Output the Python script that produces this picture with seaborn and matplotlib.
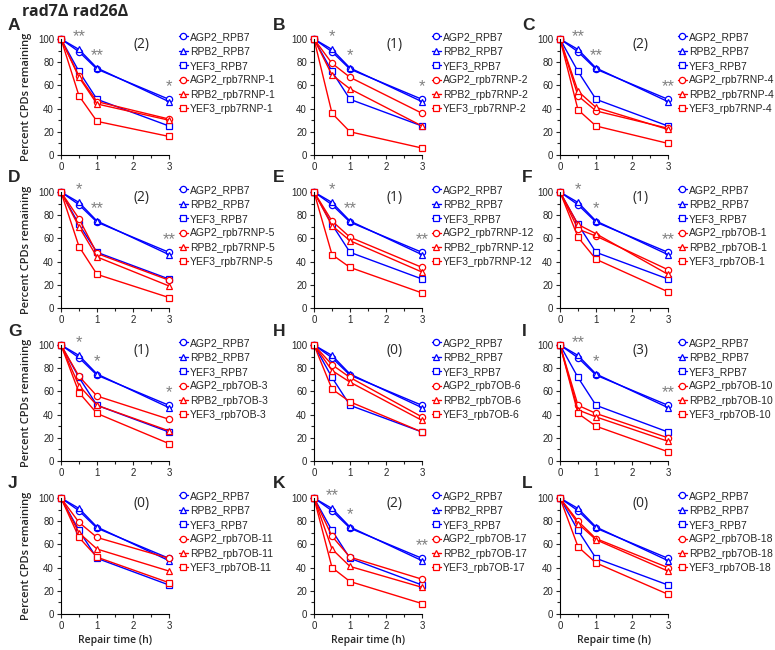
import pandas as pd
import matplotlib
matplotlib.use("Agg")
import matplotlib.pyplot as plt
from matplotlib.ticker import MultipleLocator
import seaborn as sns

sns.set_style("ticks")
plt.rcParams['font.family'] = ['Liberation Sans', 'DejaVu Sans']

# repair time points (h)
times = [0, 0.5, 1, 3]
genes = ["AGP2", "RPB2", "YEF3"]

# wild-type RPB7, identical in every panel
wt_agp2 = [100, 89, 74, 48]
wt_rpb2 = [100, 91, 75, 46]
wt_yef3 = [100, 72, 48, 25]

mutants = ["rpb7RNP-1", "rpb7RNP-2", "rpb7RNP-4", "rpb7RNP-5", "rpb7RNP-12", "rpb7OB-1",
           "rpb7OB-3", "rpb7OB-6", "rpb7OB-10", "rpb7OB-11", "rpb7OB-17", "rpb7OB-18"]

mut_agp2 = [[100, 68, 46, 31], [100, 79, 67, 36], [100, 51, 38, 23], [100, 77, 47, 24],
            [100, 75, 61, 35], [100, 68, 62, 33], [100, 73, 56, 36], [100, 83, 72, 38],
            [100, 48, 41, 20], [100, 79, 66, 48], [100, 67, 49, 30], [100, 80, 65, 40]]
mut_rpb2 = [[100, 67, 44, 30], [100, 69, 57, 25], [100, 55, 41, 22], [100, 70, 44, 19],
            [100, 71, 58, 31], [100, 72, 64, 29], [100, 65, 48, 26], [100, 78, 68, 35],
            [100, 44, 38, 17], [100, 70, 56, 37], [100, 56, 41, 23], [100, 78, 64, 37]]
mut_yef3 = [[100, 51, 29, 16], [100, 36, 20, 6], [100, 39, 25, 10], [100, 53, 29, 9],
            [100, 46, 35, 13], [100, 61, 42, 14], [100, 59, 41, 15], [100, 62, 51, 25],
            [100, 41, 30, 8], [100, 66, 49, 27], [100, 40, 28, 9], [100, 58, 44, 17]]

# number of significant genes and significance stars at 0.5, 1, 3 h
n_sig = [2, 1, 2, 2, 1, 1, 1, 0, 3, 0, 2, 0]
stars = [["**", "**", "*"], ["*", "*", "*"], ["**", "**", "**"], ["*", "**", "**"],
         ["*", "**", "**"], ["*", "*", "**"], ["*", "*", "*"], ["", "", ""],
         ["**", "*", "**"], ["", "", ""], ["**", "*", "**"], ["", "", ""]]
letters = list("ABCDEFGHIJKL")

W, H = 775, 650
fig = plt.figure(figsize=(W / 100, H / 100), dpi=100)

col_left = [61, 314, 560]
row_bottom = [155, 308, 461, 614]
letter_x = [8, 273, 522]
ax_w, ax_h = 108, 116

markers = {"AGP2": "o", "RPB2": "^", "YEF3": "s"}
label_font = ["Open Sans", "DejaVu Sans"]

for i, mut in enumerate(mutants):
    r, c = divmod(i, 3)
    ax = fig.add_axes([col_left[c] / W, 1 - row_bottom[r] / H, ax_w / W, ax_h / H])

    rows = []
    order, pal, mk = [], {}, {}
    for g, vals in zip(genes, [wt_agp2, wt_rpb2, wt_yef3]):
        name = f"{g}_RPB7"
        order.append(name); pal[name] = "#0000ff"; mk[name] = markers[g]
        rows += [(t, v, name) for t, v in zip(times, vals)]
    for g, vals in zip(genes, [mut_agp2[i], mut_rpb2[i], mut_yef3[i]]):
        name = f"{g}_{mut}"
        order.append(name); pal[name] = "#ff0000"; mk[name] = markers[g]
        rows += [(t, v, name) for t, v in zip(times, vals)]
    df = pd.DataFrame(rows, columns=["time", "pct", "series"])

    sns.lineplot(data=df, x="time", y="pct", hue="series", style="series",
                 hue_order=order, style_order=order, palette=pal, markers=mk,
                 dashes=False, legend=False, errorbar=None, lw=1, ms=4.5, ax=ax)
    for line in ax.lines:
        line.set_markerfacecolor("white")
        line.set_markeredgecolor(line.get_color())
        line.set_markeredgewidth(0.9)
        line.set_clip_on(False)

    ax.set_xlim(0, 3)
    ax.set_ylim(0, 100)
    ax.set_xticks([0, 1, 2, 3])
    ax.set_yticks(range(0, 101, 20))
    ax.xaxis.set_minor_locator(MultipleLocator(0.5))
    ax.yaxis.set_minor_locator(MultipleLocator(10))
    ax.tick_params(which="major", length=3, width=0.8, labelsize=7, pad=2)
    ax.tick_params(which="minor", length=2, width=0.8)
    sns.despine(ax=ax)
    for s in ["left", "bottom"]:
        ax.spines[s].set_linewidth(0.8)
        ax.spines[s].set_color("black")

    ax.set_xlabel("Repair time (h)" if r == 3 else "", fontsize=7.5, fontweight="semibold",
                  family=label_font, labelpad=3)
    ax.set_ylabel("Percent CPDs remaining" if c == 0 else "", fontsize=8,
                  fontweight="semibold", family=label_font, labelpad=4)

    ax.legend(ax.lines, order, loc="upper left", bbox_to_anchor=(1.09, 1.06),
              frameon=False, fontsize=7.5, handlelength=0.9, handletextpad=0.15,
              labelspacing=0.42, borderpad=0, borderaxespad=0)

    ax.text(2.25, 95, f"({n_sig[i]})", fontsize=10, ha="center", va="center",
            family=label_font)

    blue_top = [max(a, b, y) for a, b, y in zip(wt_agp2, wt_rpb2, wt_yef3)][1:]
    for t, top, s in zip(times[1:], blue_top, stars[i]):
        if s:
            ax.text(t, top + 11, s, fontsize=12, color="#808080",
                    ha="center", va="center")

    fig.text(letter_x[c] / W, 1 - (row_bottom[r] - ax_h - 14) / H, letters[i],
             fontsize=12.5, fontweight="bold", va="center", ha="left")

fig.text(22 / W, 1 - 12 / H, "rad7\u0394 rad26\u0394", fontsize=11.5, fontweight="bold",
         va="center", ha="left", family=label_font)

fig.savefig("out.png", dpi=100)
